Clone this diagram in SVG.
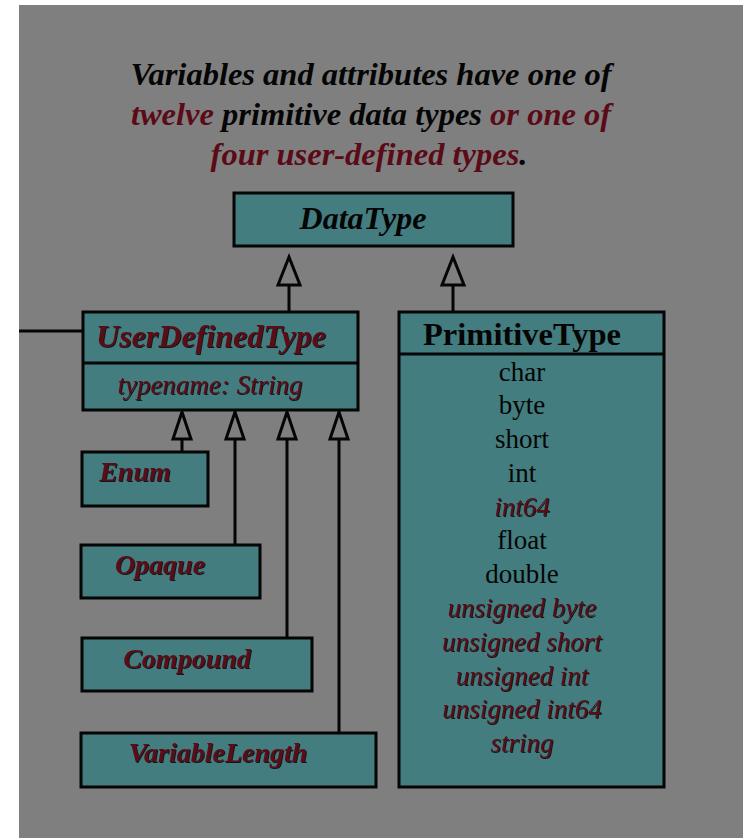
<svg xmlns="http://www.w3.org/2000/svg" width="743" height="838" viewBox="0 0 743 838">
  <style>
    .box { fill: #437d7f; stroke: #050505; stroke-width: 3; }
    .ln { stroke: #050505; stroke-width: 3; fill: none; }
    .tri { fill: #7f7f7f; stroke: #050505; stroke-width: 3; stroke-linejoin: miter; }
    text { font-family: "Liberation Serif", "Times New Roman", serif; text-anchor: middle; }
    .bi { font-weight: bold; font-style: italic; }
    .it { font-style: italic; }
    .red { fill: #5a0b17; }
    .blk { fill: #050505; }
  </style>
  <defs>
    <filter id="shade" x="-5%" y="-20%" width="110%" height="140%">
      <feDropShadow dx="1" dy="1" stdDeviation="0.4" flood-color="#000" flood-opacity="0.8"/>
    </filter>
  </defs>

  <!-- page -->
  <rect x="0" y="0" width="743" height="838" fill="#ffffff"/>
  <rect x="19" y="5" width="724" height="833" fill="#7f7f7f"/>

  <!-- heading -->
  <g id="caption" class="bi" font-size="32.5">
    <text x="371" y="85" class="blk">Variables and attributes have one of</text>
    <text x="371" y="125"><tspan class="red">twelve</tspan><tspan class="blk"> primitive data types </tspan><tspan class="red">or one of</tspan></text>
    <text x="369" y="165"><tspan class="red">four user-defined types</tspan><tspan class="blk">.</tspan></text>
  </g>

  <!-- connectors -->
  <g id="connectors">
    <line class="ln" x1="19" y1="331" x2="83" y2="331"/>
    <line class="ln" x1="289" y1="285" x2="289" y2="312"/>
    <polygon class="tri" points="289,257 278,285 300,285"/>
    <line class="ln" x1="453" y1="285" x2="453" y2="312"/>
    <polygon class="tri" points="453,257 442,285 464,285"/>
    <line class="ln" x1="182" y1="439" x2="182" y2="452"/>
    <polygon class="tri" points="182,412 173,439 191,439"/>
    <line class="ln" x1="235" y1="439" x2="235" y2="545"/>
    <polygon class="tri" points="235,412 226,439 244,439"/>
    <line class="ln" x1="287" y1="439" x2="287" y2="638"/>
    <polygon class="tri" points="287,412 278,439 296,439"/>
    <line class="ln" x1="339" y1="439" x2="339" y2="733"/>
    <polygon class="tri" points="339,412 330,439 348,439"/>
  </g>

  <g id="DataType">
    <rect class="box" x="234" y="193" width="279" height="53"/>
    <text x="363" y="229" class="bi blk" font-size="32">DataType</text>
  </g>

  <g id="UserDefinedType">
    <rect class="box" x="83" y="312" width="275" height="98"/>
    <line class="ln" x1="83" y1="363" x2="358" y2="363"/>
    <text x="211" y="347" class="bi red" font-size="32" filter="url(#shade)">UserDefinedType</text>
    <text x="210" y="394" class="it red" font-size="27" filter="url(#shade)">typename: String</text>
  </g>

  <g id="PrimitiveType">
    <rect class="box" x="399" y="312" width="265" height="475"/>
    <line class="ln" x1="399" y1="354" x2="664" y2="354"/>
    <text x="522" y="345" class="blk" font-weight="bold" font-size="32.5">PrimitiveType</text>
    <g font-size="27">
      <text x="522" y="381" class="blk">char</text>
      <text x="522" y="414" class="blk">byte</text>
      <text x="522" y="448" class="blk">short</text>
      <text x="522" y="482" class="blk">int</text>
      <text x="522" y="516" class="it red" filter="url(#shade)">int64</text>
      <text x="522" y="549" class="blk">float</text>
      <text x="522" y="583" class="blk">double</text>
      <text x="522" y="617" class="it red" filter="url(#shade)">unsigned byte</text>
      <text x="522" y="651" class="it red" filter="url(#shade)">unsigned short</text>
      <text x="522" y="685" class="it red" filter="url(#shade)">unsigned int</text>
      <text x="522" y="718" class="it red" filter="url(#shade)">unsigned int64</text>
      <text x="522" y="752" class="it red" filter="url(#shade)">string</text>
    </g>
  </g>

  <g id="Enum">
    <rect class="box" x="82" y="452" width="126" height="54"/>
    <text x="135" y="481" class="bi red" font-size="28" filter="url(#shade)">Enum</text>
  </g>

  <g id="Opaque">
    <rect class="box" x="81" y="545" width="179" height="53"/>
    <text x="160" y="574" class="bi red" font-size="28" filter="url(#shade)">Opaque</text>
  </g>

  <g id="Compound">
    <rect class="box" x="82" y="638" width="230" height="53"/>
    <text x="187" y="668" class="bi red" font-size="28" filter="url(#shade)">Compound</text>
  </g>

  <g id="VariableLength">
    <rect class="box" x="81" y="733" width="295" height="54"/>
    <text x="218" y="762" class="bi red" font-size="28" filter="url(#shade)">VariableLength</text>
  </g>
</svg>
